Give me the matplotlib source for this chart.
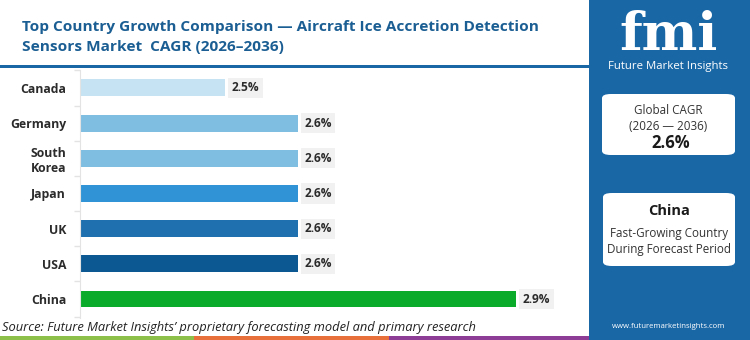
import matplotlib
matplotlib.use("Agg")
import matplotlib.pyplot as plt
from matplotlib.patches import FancyBboxPatch, Rectangle
from matplotlib.ticker import FixedLocator

countries = ["Canada", "Germany", "South\nKorea", "Japan", "UK", "USA", "China"]
cagr = [2.5, 2.6, 2.6, 2.6, 2.6, 2.6, 2.9]
bar_colors = ["#c6e3f3", "#7fbde1", "#7fbde1", "#2f93d5", "#1f70ae", "#0b5893", "#0aab2b"]
value_labels = ["2.5%", "2.6%", "2.6%", "2.6%", "2.6%", "2.6%", "2.9%"]
title_lines = ["Top Country Growth Comparison \u2014 Aircraft Ice Accretion Detection",
               "Sensors Market  CAGR (2026\u20132036)"]
global_cagr = "2.6%"
top_country = "China"

FONT = ["Open Sans", "DejaVu Sans"]
plt.rcParams["font.family"] = FONT

W, H = 750, 340
fig = plt.figure(figsize=(W / 100, H / 100), dpi=100)
fig.patch.set_facecolor("white")

def fx(px):
    return px / W

def fy(py):
    return 1 - py / H

PANEL = "#1a67a6"

# right panel
fig.add_artist(Rectangle((fx(589), 0), 1 - fx(589), 1, transform=fig.transFigure,
                         facecolor=PANEL, edgecolor="none", zorder=0))
# title underline
fig.add_artist(Rectangle((0, fy(67.5)), fx(589), 3 / H, transform=fig.transFigure,
                         facecolor=PANEL, edgecolor="none", zorder=1))
# bottom colour strip
for x0, x1, c in [(0, 194, "#8cc04a"), (194, 389, "#e8703a"), (389, 589, "#8e3d96")]:
    fig.add_artist(Rectangle((fx(x0), 0), fx(x1 - x0), 4 / H, transform=fig.transFigure,
                             facecolor=c, edgecolor="none", zorder=1))

# title
fig.text(fx(22), fy(27), title_lines[0], fontsize=11.1, fontweight="bold",
         color="#1b5e93", va="center", ha="left")
fig.text(fx(22), fy(47), title_lines[1], fontsize=11.1, fontweight="bold",
         color="#1b5e93", va="center", ha="left")

# main axes
ax = fig.add_axes([fx(80), fy(318), fx(589 - 80), (318 - 70) / H])
y = list(range(len(countries)))
ax.barh(y, cagr, height=0.48, color=bar_colors, left=0)
ax.set_xlim(2.3, 3.0)
ax.set_ylim(6.54, -0.51)
for s in ["top", "right", "bottom"]:
    ax.spines[s].set_visible(False)
ax.spines["left"].set_color("#e3e3e3")
ax.set_xticks([])
ax.set_yticks(y)
ax.set_yticklabels(countries, fontsize=8.8, fontweight="bold", color="#2b2b2b",
                   linespacing=1.25)
ax.tick_params(axis="y", which="major", length=0, pad=10)
ax.yaxis.set_minor_locator(FixedLocator([i + 0.5 for i in range(-1, len(countries))]))
ax.tick_params(axis="y", which="minor", length=4, color="#e3e3e3", width=1)
for yi, v, lab in zip(y, cagr, value_labels):
    ax.annotate(lab, (v, yi), xytext=(4.5, 0), textcoords="offset points",
                va="center", ha="left", fontsize=8.6, fontweight="bold", color="#2b2b2b",
                bbox=dict(boxstyle="square,pad=0.3", facecolor="#f1f1f1", edgecolor="none"))

# logo
fig.text(fx(669), fy(35), "fmi", fontsize=38, fontweight="bold", color="white",
         ha="center", va="center", family=["DejaVu Serif"])
fig.text(fx(668), fy(66), "Future Market Insights", fontsize=8.2, color="white",
         ha="center", va="center")

# boxes
def box(x0, y0, x1, y1):
    fig.add_artist(FancyBboxPatch((fx(x0), fy(y1)), fx(x1 - x0), (y1 - y0) / H,
                                  boxstyle="round,pad=0,rounding_size=0.012",
                                  transform=fig.transFigure, facecolor="white",
                                  edgecolor="none", zorder=2))

box(602, 94, 735, 155)
fig.text(fx(668), fy(111), "Global CAGR", fontsize=8.4, color="#333333", ha="center", va="center", zorder=3)
fig.text(fx(668), fy(127), "(2026 \u2014 2036)", fontsize=8.4, color="#333333", ha="center", va="center", zorder=3)
fig.text(fx(671), fy(143), global_cagr, fontsize=12, fontweight="bold", color="#1a1a1a", ha="center", va="center", zorder=3)

box(603, 193, 735, 266)
fig.text(fx(669), fy(211), top_country, fontsize=10.5, fontweight="bold", color="#1a1a1a", ha="center", va="center", zorder=3)
fig.text(fx(669), fy(233), "Fast-Growing Country", fontsize=8.4, color="#333333", ha="center", va="center", zorder=3)
fig.text(fx(669), fy(249), "During Forecast Period", fontsize=8.4, color="#333333", ha="center", va="center", zorder=3)

fig.text(fx(669), fy(327), "www.futuremarketinsights.com", fontsize=5.6, color="white",
         ha="center", va="center")

# source
fig.text(fx(2), fy(327), "Source: Future Market Insights\u2019 proprietary forecasting model and primary research",
         fontsize=9.3, style="italic", color="#222222", ha="left", va="center")

fig.savefig("out.png", dpi=100, facecolor="white")
